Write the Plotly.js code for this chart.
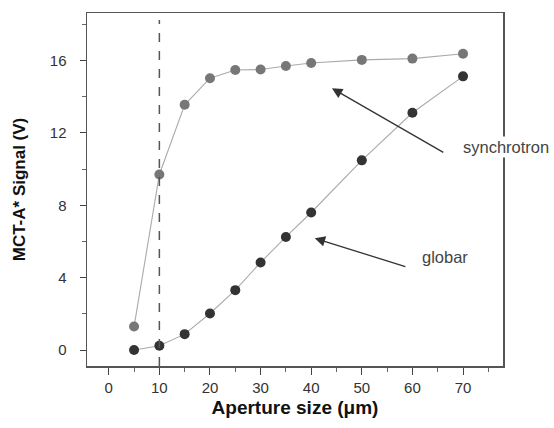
<!DOCTYPE html>
<html>
<head>
<meta charset="utf-8">
<script src="https://cdn.plot.ly/plotly-3.0.1.min.js"></script>
<style>html,body{margin:0;padding:0;background:#fff;}#chart{width:554px;height:428px;}</style>
</head>
<body>
<div id="chart"></div>
<script>
const aperture = [5, 10, 15, 20, 25, 30, 35, 40, 50, 60, 70];
const synchrotron = [1.3, 9.7, 13.55, 15.02, 15.47, 15.5, 15.69, 15.86, 16.03, 16.1, 16.37];
const globar = [0.0, 0.24, 0.88, 2.02, 3.31, 4.84, 6.25, 7.6, 10.48, 13.11, 15.12];
const xTicks = [0, 10, 20, 30, 40, 50, 60, 70];
const yTicks = [0, 4, 8, 12, 16];

const traces = [
  {x: aperture, y: synchrotron, mode: 'lines+markers', name: 'synchrotron',
   line: {color: '#aaa', width: 1.1}, marker: {color: '#777', size: 10}},
  {x: aperture, y: globar, mode: 'lines+markers', name: 'globar',
   line: {color: '#aaa', width: 1.1}, marker: {color: '#333', size: 10}}
];

const layout = {
  width: 554, height: 428,
  margin: {l: 87, r: 51, t: 13, b: 62},
  paper_bgcolor: '#fff', plot_bgcolor: '#fff',
  showlegend: false,
  font: {family: 'Liberation Sans, Arial, sans-serif', color: '#333'},
  xaxis: {
    range: [-4.3, 77.9], tickvals: xTicks, ticks: 'outside', ticklen: 7, tickcolor: '#444',
    showline: true, linecolor: '#555', linewidth: 1.5, mirror: true, showgrid: false, zeroline: false,
    tickfont: {size: 15, color: '#333'},
    minor: {dtick: 5, tick0: 0, ticks: 'outside', ticklen: 4, tickcolor: '#666', showgrid: false},
    title: {text: 'Aperture size (μm)', font: {size: 19, color: '#111', weight: 'bold'}, standoff: 6}
  },
  yaxis: {
    range: [-0.88, 18.62], tickvals: yTicks, ticks: 'outside', ticklen: 6, tickcolor: '#444',
    showline: true, linecolor: '#555', linewidth: 1.5, mirror: true, showgrid: false, zeroline: false,
    tickfont: {size: 15, color: '#333'}, ticklabelstandoff: 10,
    minor: {dtick: 2, tick0: 0, ticks: 'outside', ticklen: 4, tickcolor: '#666', showgrid: false},
    title: {text: 'MCT-A* Signal (V)', font: {size: 17, color: '#111', weight: 'bold'}, standoff: 20}
  },
  shapes: [
    {type: 'line', xref: 'x', yref: 'paper', x0: 10, x1: 10, y0: 0, y1: 0.98,
     line: {color: '#555', width: 1.5, dash: 'dash'}}
  ],
  annotations: [
    {xref: 'x', yref: 'y', axref: 'x', ayref: 'y', x: 44.1, y: 14.46, ax: 66.4, ay: 10.87,
     text: '', showarrow: true, arrowhead: 2, arrowsize: 1.6, arrowwidth: 1.3, arrowcolor: '#333'},
    {xref: 'x', yref: 'y', axref: 'x', ayref: 'y', x: 40.7, y: 6.18, ax: 58.9, ay: 4.58,
     text: '', showarrow: true, arrowhead: 2, arrowsize: 1.6, arrowwidth: 1.3, arrowcolor: '#333'},
    {xref: 'paper', yref: 'y', x: 1.007, y: 11.2, xanchor: 'center', yanchor: 'middle',
     text: 'synchrotron', showarrow: false,
     font: {size: 16.5, color: '#444'}, bgcolor: '#fff'},
    {xref: 'x', yref: 'y', x: 66.5, y: 5.13, xanchor: 'center', yanchor: 'middle',
     text: 'globar', showarrow: false,
     font: {size: 16.5, color: '#444'}}
  ]
};

Plotly.newPlot('chart', traces, layout, {displayModeBar: false, staticPlot: true});
</script>
</body>
</html>
